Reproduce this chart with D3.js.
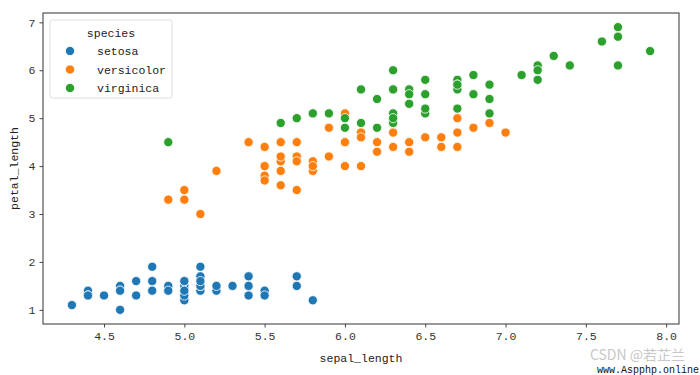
<!DOCTYPE html>
<html>
<head>
<meta charset="utf-8">
<script src="https://cdn.jsdelivr.net/npm/d3@7"></script>
<style>
  body { margin: 0; background: #fff; }
  svg { display: block; }
</style>
</head>
<body>
<svg id="chart"></svg>
<script>
// iris: sepal_length / petal_length per species
const speciesNames = ["setosa", "versicolor", "virginica"];

const setosaSepal = [5.1,4.9,4.7,4.6,5.0,5.4,4.6,5.0,4.4,4.9,5.4,4.8,4.8,4.3,5.8,5.7,5.4,5.1,5.7,5.1,
  5.4,5.1,4.6,5.1,4.8,5.0,5.0,5.2,5.2,4.7,4.8,5.4,5.2,5.5,4.9,5.0,5.5,4.9,4.4,5.1,
  5.0,4.5,4.4,5.0,5.1,4.8,5.1,4.6,5.3,5.0];
const setosaPetal = [1.4,1.4,1.3,1.5,1.4,1.7,1.4,1.5,1.4,1.5,1.5,1.6,1.4,1.1,1.2,1.5,1.3,1.4,1.7,1.5,
  1.7,1.5,1.0,1.7,1.9,1.6,1.6,1.5,1.4,1.6,1.6,1.5,1.5,1.4,1.5,1.2,1.3,1.4,1.3,1.5,
  1.3,1.3,1.3,1.6,1.9,1.4,1.6,1.4,1.5,1.4];

const versicolorSepal = [7.0,6.4,6.9,5.5,6.5,5.7,6.3,4.9,6.6,5.2,5.0,5.9,6.0,6.1,5.6,6.7,5.6,5.8,6.2,5.6,
  5.9,6.1,6.3,6.1,6.4,6.6,6.8,6.7,6.0,5.7,5.5,5.5,5.8,6.0,5.4,6.0,6.7,6.3,5.6,5.5,
  5.5,6.1,5.8,5.0,5.6,5.7,5.7,6.2,5.1,5.7];
const versicolorPetal = [4.7,4.5,4.9,4.0,4.6,4.5,4.7,3.3,4.6,3.9,3.5,4.2,4.0,4.7,3.6,4.4,4.5,4.1,4.5,3.9,
  4.8,4.0,4.9,4.7,4.3,4.4,4.8,5.0,4.5,3.5,3.8,3.7,3.9,5.1,4.5,4.5,4.7,4.4,4.1,4.0,
  4.4,4.6,4.0,3.3,4.2,4.2,4.2,4.3,3.0,4.1];

const virginicaSepal = [6.3,5.8,7.1,6.3,6.5,7.6,4.9,7.3,6.7,7.2,6.5,6.4,6.8,5.7,5.8,6.4,6.5,7.7,7.7,6.0,
  6.9,5.6,7.7,6.3,6.7,7.2,6.2,6.1,6.4,7.2,7.4,7.9,6.4,6.3,6.1,7.7,6.3,6.4,6.0,6.9,
  6.7,6.9,5.8,6.8,6.7,6.7,6.3,6.5,6.2,5.9];
const virginicaPetal = [6.0,5.1,5.9,5.6,5.8,6.6,4.5,6.3,5.8,6.1,5.1,5.3,5.5,5.0,5.1,5.3,5.5,6.7,6.9,5.0,
  5.7,4.9,6.7,4.9,5.7,6.0,4.8,4.9,5.6,5.8,6.1,6.4,5.6,5.1,5.6,6.1,5.6,5.5,4.8,5.4,
  5.6,5.1,5.1,5.9,5.7,5.2,5.0,5.2,5.4,5.1];

const xTicks = [4.5, 5.0, 5.5, 6.0, 6.5, 7.0, 7.5, 8.0];
const yTicks = [1, 2, 3, 4, 5, 6, 7];
const palette = ["#1f77b4", "#ff7f0e", "#2ca02c"];

const sepalBySpecies = [setosaSepal, versicolorSepal, virginicaSepal];
const petalBySpecies = [setosaPetal, versicolorPetal, virginicaPetal];
const points = [];
speciesNames.forEach((sp, s) => {
  sepalBySpecies[s].forEach((v, i) => {
    points.push({ species: sp, sepal: v, petal: petalBySpecies[s][i] });
  });
});

const width = 700, height = 375;
const margin = { top: 13, right: 21, bottom: 51, left: 43 };
const font = "'Liberation Mono', 'DejaVu Sans Mono', monospace";

const svg = d3.select("#chart").attr("width", width).attr("height", height);

// matplotlib style 5% padding
const xExt = d3.extent(points, d => d.sepal);
const yExt = d3.extent(points, d => d.petal);
const xPad = (xExt[1] - xExt[0]) * 0.05, yPad = (yExt[1] - yExt[0]) * 0.05;

const x = d3.scaleLinear()
  .domain([xExt[0] - xPad, xExt[1] + xPad])
  .range([margin.left, width - margin.right]);
const y = d3.scaleLinear()
  .domain([yExt[0] - yPad, yExt[1] + yPad])
  .range([height - margin.bottom, margin.top]);
const color = d3.scaleOrdinal().domain(speciesNames).range(palette);

// ── Axes ──
const xAxis = svg.append("g")
  .attr("transform", `translate(0,${height - margin.bottom})`)
  .call(d3.axisBottom(x).tickValues(xTicks).tickFormat(d3.format(".1f")).tickSize(3.5).tickPadding(4));
const yAxis = svg.append("g")
  .attr("transform", `translate(${margin.left},0)`)
  .call(d3.axisLeft(y).tickValues(yTicks).tickFormat(d3.format("d")).tickSize(3.5).tickPadding(4));

[xAxis, yAxis].forEach(g => {
  g.select(".domain").remove();
  g.selectAll(".tick line").attr("stroke", "#333").attr("stroke-width", 0.9);
  g.selectAll(".tick text")
    .attr("font-family", font)
    .attr("font-size", 11.5)
    .attr("fill", "#333");
});

// frame
svg.append("rect")
  .attr("x", margin.left).attr("y", margin.top)
  .attr("width", width - margin.left - margin.right)
  .attr("height", height - margin.top - margin.bottom)
  .attr("fill", "none").attr("stroke", "#333").attr("stroke-width", 1);

// ── Axis labels ──
svg.append("text")
  .attr("x", (margin.left + width - margin.right) / 2)
  .attr("y", 362)
  .attr("text-anchor", "middle")
  .attr("font-family", font).attr("font-size", 11.5).attr("fill", "#222")
  .text("sepal_length");

svg.append("text")
  .attr("transform", `translate(18,${(margin.top + height - margin.bottom) / 2}) rotate(-90)`)
  .attr("text-anchor", "middle")
  .attr("font-family", font).attr("font-size", 11.5).attr("fill", "#222")
  .text("petal_length");

// ── Points ──
svg.append("g")
  .selectAll("circle")
  .data(points)
  .join("circle")
  .attr("cx", d => x(d.sepal))
  .attr("cy", d => y(d.petal))
  .attr("r", 4.6)
  .attr("fill", d => color(d.species))
  .attr("stroke", "#fff")
  .attr("stroke-width", 0.8);

// ── Legend ──
const legend = svg.append("g").attr("transform", "translate(50,20)");
legend.append("rect")
  .attr("width", 122).attr("height", 78).attr("rx", 2.5)
  .attr("fill", "#fff").attr("fill-opacity", 0.8)
  .attr("stroke", "#d6d6d6").attr("stroke-width", 0.8);
legend.append("text")
  .attr("x", 61).attr("y", 17)
  .attr("text-anchor", "middle")
  .attr("font-family", font).attr("font-size", 11.5).attr("fill", "#222")
  .text("species");
speciesNames.forEach((sp, i) => {
  const row = legend.append("g").attr("transform", `translate(0,${31 + i * 18.5})`);
  row.append("circle").attr("cx", 20).attr("r", 4.6)
    .attr("fill", color(sp)).attr("stroke", "#fff").attr("stroke-width", 0.8);
  row.append("text")
    .attr("x", 47).attr("y", 4)
    .attr("font-family", font).attr("font-size", 11.5).attr("fill", "#222")
    .text(sp);
});

// ── Watermark ──
svg.append("text")
  .attr("x", 685).attr("y", 360)
  .attr("text-anchor", "end")
  .attr("font-family", "'Noto Sans CJK SC', sans-serif").attr("font-size", 14)
  .attr("fill", "#c8c8c8")
  .text("CSDN @若芷兰");
svg.append("text")
  .attr("x", 699).attr("y", 373)
  .attr("text-anchor", "end")
  .attr("font-family", font).attr("font-size", 10).attr("fill", "#111")
  .text("www.Aspphp.online");
</script>
</body>
</html>
